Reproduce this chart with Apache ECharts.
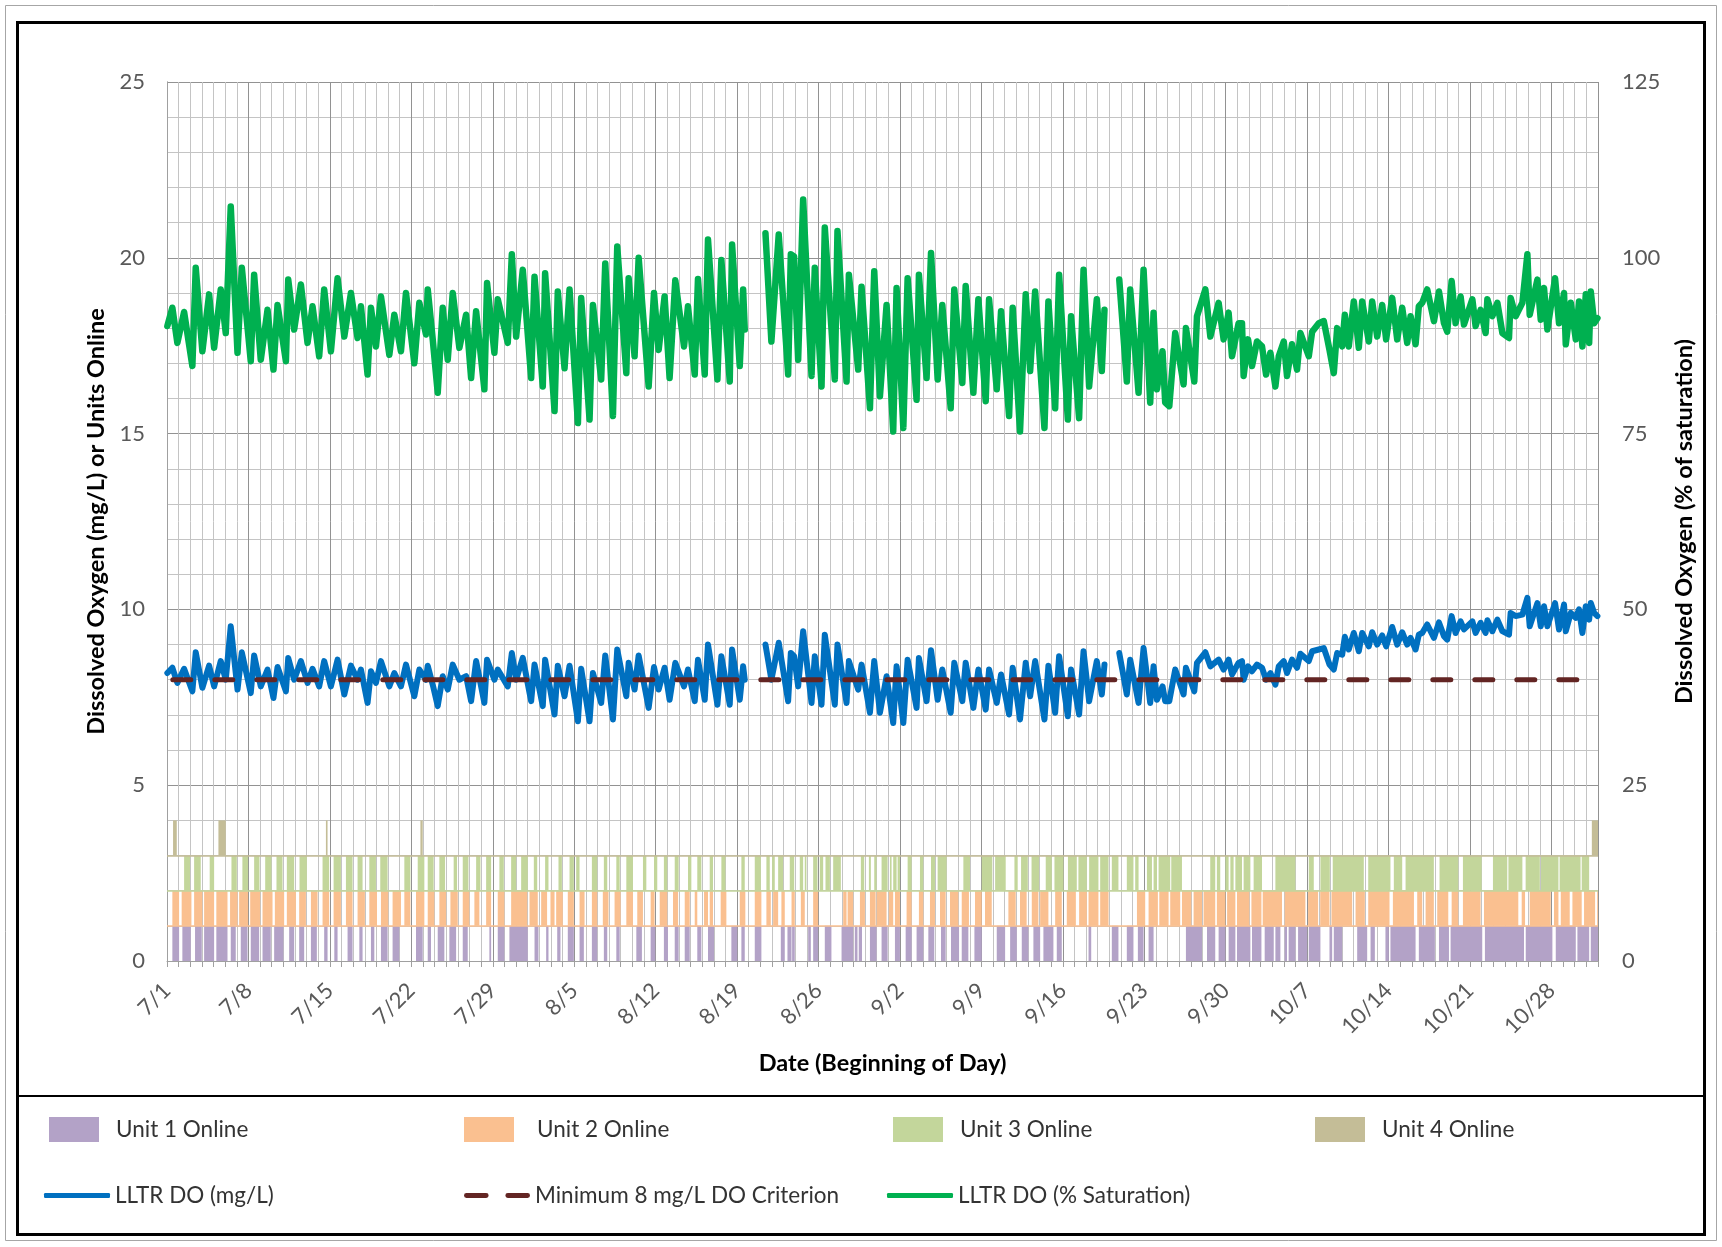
<!DOCTYPE html>
<html>
<head>
<meta charset="utf-8">
<script src="https://cdn.jsdelivr.net/npm/echarts@6/dist/echarts.min.js"></script>
<style>
  html, body { margin: 0; padding: 0; background: #ffffff; }
  #chart { width: 1722px; height: 1247px; }
</style>
</head>
<body>
<div id="chart"></div>
<script>
// ---- Tick labels (one per week, starting 7/1) ----
const xTickLabels = ['7/1','7/8','7/15','7/22','7/29','8/5','8/12','8/19','8/26','9/2','9/9','9/16','9/23','9/30','10/7','10/14','10/21','10/28'];

// ---- LLTR dissolved oxygen samples: days since 7/1, mg/L, % saturation (null = no record) ----
const sampleDays = [
  0.03,0.46,0.89,1.47,2.18,2.47,3.04,3.62,4.05,4.62,
  5.05,5.48,6.06,6.43,7.20,7.49,8.06,8.64,9.15,9.50,
  10.22,10.42,10.93,11.51,12.08,12.51,13.08,13.51,14.09,14.66,
  15.24,15.81,16.38,16.67,17.24,17.53,17.96,18.39,19.11,19.54,
  20.11,20.54,21.26,21.69,22.26,22.41,22.84,23.27,23.70,24.13,
  24.56,25.13,25.71,26.14,26.57,27.28,27.51,28.14,28.43,29.29,
  29.64,30.01,
  30.58,31.30,31.59,32.30,32.50,33.31,33.59,34.17,34.60,35.32,
  35.60,36.32,36.61,37.32,37.67,38.33,38.70,39.48,39.68,40.19,
  40.54,41.40,41.86,42.26,42.77,43.20,43.69,44.44,44.78,45.36,
  45.64,46.22,46.50,47.31,47.65,48.37,48.57,49.23,49.52,49.66,
  50.50,
  51.44,51.95,52.58,53.39,53.62,53.90,54.25,54.68,55.40,55.68,
  56.26,56.54,57.40,57.63,58.41,58.61,59.41,59.70,60.42,60.79,
  61.28,
  61.42,61.85,62.42,62.71,63.29,63.66,64.43,64.63,65.29,65.67,
  66.24,66.64,67.36,67.67,68.36,68.65,69.31,69.74,70.37,70.66,
  71.32,71.69,72.38,72.69,73.32,73.81,74.19,74.62,75.42,75.76,
  76.34,76.68,77.43,77.71,78.40,78.78,79.26,79.92,80.35,80.58,
  81.20,
  81.85,82.50,82.79,83.51,83.94,84.51,84.80,85.09,85.57,85.80,
  86.15,86.66,87.38,87.58,88.30,88.53,89.25,89.68,90.39,90.82,
  91.25,91.54,92.11,
  92.40,92.54,92.92,93.26,93.69,94.12,94.47,94.84,95.27,95.56,
  95.99,96.27,96.70,97.13,97.42,98.14,98.43,99.00,99.43,99.92,
  100.29,100.58,101.01,101.24,101.58,102.01,102.44,102.73,103.30,103.59,
  104.02,104.45,104.79,105.31,105.74,106.17,106.60,106.89,107.32,107.60,
  107.89,108.32,108.90,109.33,109.76,110.04,110.42,110.76,111.19,111.48,
  112.20,112.48,112.91,113.34,113.49,113.92,114.35,114.78,115.35,115.49,
  115.92,116.50,116.93,117.13,117.79,118.08,118.36,118.65,119.31,119.65,
  120.08,120.23,120.66,121.09,121.37,121.66,121.95,122.24,122.38,122.67,
  122.95
];

const doMgL = [
  8.19,8.34,7.91,8.31,7.67,8.78,7.77,8.40,7.81,8.53,
  8.00,9.52,7.72,8.78,7.62,8.69,7.81,8.29,7.48,8.36,
  7.67,8.62,8.00,8.53,7.91,8.31,7.81,8.53,7.81,8.57,
  7.58,8.40,8.00,8.29,7.34,8.24,7.91,8.53,7.81,8.19,
  7.81,8.43,7.53,8.29,8.00,8.40,7.86,7.25,8.10,7.72,
  8.43,8.00,8.10,7.39,8.53,7.34,8.57,8.00,8.29,7.81,
  8.76,8.00,
  8.62,7.39,8.43,7.25,8.57,7.01,8.40,7.53,8.40,6.82,
  8.31,6.82,8.19,7.34,8.69,6.87,8.86,7.53,8.48,7.72,
  8.69,7.20,8.36,7.72,8.34,7.43,8.48,7.81,8.29,7.39,
  8.57,7.43,9.00,7.29,8.67,7.29,8.86,7.43,8.38,8.00,
  null,
  9.00,8.00,9.05,7.39,8.76,8.67,7.81,9.38,7.34,8.67,
  7.29,9.28,7.29,9.00,7.34,8.53,7.72,8.43,7.06,8.53,
  7.06,
  7.10,8.10,6.77,8.38,6.77,8.57,7.20,8.62,7.39,8.84,
  7.43,8.29,7.06,8.48,7.39,8.48,7.20,8.29,7.15,8.29,
  7.34,8.15,7.01,8.34,6.87,8.48,7.53,8.53,6.87,8.40,
  7.06,8.67,6.96,8.29,7.01,8.81,7.39,8.53,7.58,8.43,
  null,
  8.76,7.58,8.57,7.34,8.90,7.34,8.38,7.43,7.81,7.39,
  7.39,8.29,7.58,8.34,7.67,8.48,8.78,8.38,8.57,8.29,
  8.57,8.15,8.48,
  8.53,8.00,8.38,8.24,8.43,8.34,8.00,8.19,7.86,8.38,
  8.53,8.19,8.57,8.34,8.74,8.53,8.81,8.86,8.90,8.43,
  8.29,8.76,8.71,9.22,8.86,9.33,8.81,9.33,8.95,9.35,
  9.00,9.26,8.95,9.50,9.00,9.35,9.00,9.19,8.86,9.28,
  9.33,9.57,9.19,9.63,9.24,9.14,9.81,9.33,9.66,9.43,
  9.66,9.33,9.62,9.33,9.69,9.38,9.71,9.38,9.28,9.90,
  9.81,9.85,10.33,9.52,10.18,9.52,10.09,9.52,10.18,9.43,
  10.14,9.38,9.90,9.76,10.00,9.33,10.09,9.71,10.18,9.90,
  9.81
];

const doPctSat = [
  90.3,92.9,87.9,92.3,84.6,98.6,86.7,94.8,87.2,95.5,
  89.3,107.3,86.5,98.6,85.3,97.6,85.5,92.6,84.1,93.3,
  85.3,96.9,89.8,96.2,87.9,93.1,86.0,95.5,86.7,97.1,
  88.8,95.0,88.6,93.1,83.4,92.9,87.4,94.5,86.2,91.9,
  86.7,95.0,85.0,93.6,89.1,95.5,88.4,80.8,92.9,85.5,
  95.0,87.2,91.9,82.9,92.4,81.3,96.4,86.5,94.1,87.9,
  100.5,88.8,
  98.3,82.9,97.3,81.7,97.8,78.2,95.2,84.3,95.5,76.5,
  94.3,77.0,93.3,82.7,99.2,77.5,101.6,83.6,97.1,86.0,
  100.0,81.7,95.0,86.9,94.5,82.9,96.8,87.4,93.1,83.4,
  97.0,83.4,102.6,82.7,99.7,82.4,101.9,84.6,95.5,89.8,
  null,
  103.5,88.1,103.3,83.4,100.5,100.2,85.5,108.3,83.2,98.6,
  81.7,104.3,82.7,103.8,82.4,97.6,84.1,95.9,78.6,98.1,
  80.3,
  80.3,93.3,75.3,95.7,75.8,97.1,79.8,97.6,82.9,100.7,
  82.7,93.3,78.6,95.5,82.2,96.0,80.8,94.1,79.6,94.1,
  81.3,92.4,77.5,92.9,75.3,94.8,83.9,95.2,75.8,93.8,
  78.6,97.6,77.0,91.7,77.2,98.3,81.7,94.1,83.9,92.6,
  null,
  96.9,82.4,95.5,80.8,98.3,79.4,92.2,81.3,86.7,79.4,
  78.9,89.3,82.0,90.0,82.4,91.7,95.5,88.8,93.6,88.4,
  92.2,86.0,90.7,
  90.7,83.2,88.4,84.6,88.1,87.4,83.4,86.5,81.7,86.0,
  88.1,83.2,87.7,84.1,89.3,86.0,89.5,90.7,91.0,86.9,
  83.6,90.0,87.4,91.9,87.4,93.8,87.2,93.8,88.1,93.8,
  88.8,93.3,88.4,94.3,88.4,92.9,87.9,91.7,87.7,93.1,
  93.6,95.5,91.0,95.2,90.7,89.5,96.7,90.7,94.5,90.5,
  94.1,90.3,92.6,89.3,94.1,91.7,93.6,89.3,88.6,94.3,
  91.7,93.6,100.5,91.9,96.9,91.2,95.7,89.8,97.1,90.7,
  95.0,87.7,93.6,88.4,93.8,87.4,94.8,87.9,95.2,90.7,
  91.4
];

// ---- Minimum DO criterion (mg/L) ----
const criterionDays = [0.5, 123];
const criterionMgL = 8;

// ---- Generating units online: [start day, end day] ----
const unit1Online = [
  [0.46,1.04],[1.32,2.04],[2.41,2.99],[3.19,4.05],[4.24,5.20],[5.48,5.91],[6.34,6.92],[7.20,7.92],
  [8.21,8.92],[9.21,10.01],[10.50,10.93],[11.36,11.79],[12.37,12.88],[13.51,13.80],[14.38,14.66],
  [15.52,15.95],[16.53,16.81],[17.53,17.82],[18.39,18.96],[19.39,19.97],[21.40,21.98],[22.41,22.69],
  [23.27,23.84],[24.27,24.85],[25.42,25.85],[27.71,27.86],[28.43,29.00],[29.43,31.01],
  [31.59,31.93],[32.59,32.79],[33.54,33.82],[34.45,34.97],[35.46,35.83],[36.52,36.98],[37.55,37.84],
  [38.62,38.91],[40.34,40.82],[41.57,41.97],[42.71,43.06],[43.64,43.98],[44.50,44.93],[45.58,45.93],
  [46.50,47.02],[48.51,49.02],[49.37,49.66],[50.52,51.09],[52.76,53.10],[53.33,53.68],[53.73,53.96],
  [55.11,55.34],[55.54,55.97],[56.54,57.11],[57.98,58.98],[59.12,59.35],[59.46,59.74],[60.42,60.99],
  [61.42,61.94],[62.57,63.00],[63.49,64.00],[64.43,65.01],[65.44,65.95],[66.53,66.93],[67.39,68.08],
  [68.31,68.88],[69.40,70.03],[71.32,72.04],[72.47,73.04],[73.47,74.04],[74.47,75.05],[75.33,76.19],
  [76.48,76.91],[79.21,79.44],[81.21,81.78],[82.50,83.07],[83.45,83.94],[84.37,84.80],[87.58,88.96],
  [89.39,90.10],[90.39,90.97],[91.25,91.83],[91.97,93.12],[93.26,94.07],[94.35,95.13],[95.27,95.70],
  [96.07,96.27],[96.41,96.99],[97.22,98.00],[98.14,99.14],[99.92,100.15],[100.29,101.01],[102.30,103.16],
  [103.45,103.82],[104.73,105.02],[105.16,107.32],[107.60,108.98],[109.33,110.19],[110.33,113.05],
  [113.28,116.64],[116.79,119.08],[119.37,121.09],[121.23,122.24],[122.38,123.00]
];

const unit2Online = [
  [0.46,1.04],[1.26,2.10],[2.33,3.04],[3.19,4.05],[4.24,5.20],[5.42,6.06],[6.20,6.97],[7.15,8.01],
  [8.21,9.07],[9.27,10.07],[10.30,11.08],[11.36,11.94],[12.37,12.94],[13.37,13.94],[14.32,14.95],
  [15.38,15.95],[16.38,17.01],[17.39,18.05],[18.39,19.02],[19.39,20.11],[20.40,20.92],[21.40,22.12],
  [22.41,22.98],[23.41,23.99],[24.36,24.99],[25.42,25.99],[26.42,26.85],[27.43,27.86],[28.43,29.00],
  [29.58,30.96],[31.16,31.87],[32.16,32.67],[32.96,33.31],[33.45,34.02],[34.45,34.97],[35.46,35.89],
  [36.52,36.98],[37.46,37.95],[38.47,38.99],[39.48,40.05],[40.42,40.91],[41.57,41.91],[42.35,43.00],
  [43.49,43.93],[44.50,44.93],[45.36,45.58],[46.16,46.50],[46.65,46.93],[47.59,48.08],[49.23,49.71],
  [50.52,51.09],[51.52,51.90],[52.10,52.53],[52.81,53.10],[53.68,53.96],[54.48,54.82],[55.54,55.97],
  [58.12,58.41],[58.50,58.98],[59.56,59.99],[60.42,60.91],[61.00,61.85],[62.05,62.42],[62.57,63.00],
  [63.57,64.00],[64.63,65.01],[65.58,66.01],[66.44,66.93],[67.30,68.02],[68.31,68.93],[69.45,70.03],
  [70.31,70.89],[72.32,72.95],[73.32,73.89],[74.33,74.90],[75.05,75.76],[76.34,76.91],[77.34,78.12],
  [78.40,79.06],[79.21,80.06],[80.21,80.93],[83.37,84.08],[84.37,85.17],[85.29,86.09],[86.23,87.09],
  [87.24,88.04],[88.24,88.96],[89.10,90.10],[90.24,90.97],[91.12,91.83],[91.97,93.03],[93.21,94.07],
  [94.18,95.84],[96.07,97.85],[98.08,98.94],[99.12,99.92],[100.09,101.87],[102.16,102.96],[103.25,105.08],
  [105.37,107.18],[107.46,107.89],[108.18,108.89],[109.18,110.13],[110.42,110.99],[111.39,112.91],
  [113.20,116.15],[116.44,116.73],[117.13,118.94],[119.22,119.60],[119.80,120.57],[120.80,121.60],
  [121.80,122.75],[122.93,123.00]
];

const unit3Online = [
  [1.47,1.98],[2.33,2.90],[3.67,4.05],[5.54,6.00],[6.48,6.97],[7.49,7.95],[8.44,8.98],[9.41,9.93],
  [10.30,10.93],[11.39,12.02],[13.37,13.94],[14.32,14.95],[15.38,15.95],[16.38,16.81],[17.39,17.96],
  [18.33,18.96],[20.40,20.92],[21.55,22.12],[22.41,22.92],[23.41,23.90],[24.64,24.93],[25.42,25.91],
  [26.57,26.94],[27.43,27.86],[28.57,28.95],[29.58,30.01],[30.44,31.01],[31.53,31.82],[32.50,32.79],
  [33.65,33.94],[34.60,34.97],[35.17,35.46],[36.52,36.98],[37.55,37.84],[38.62,38.91],[39.48,40.05],
  [40.91,41.20],[41.86,42.14],[42.71,43.00],[43.64,43.98],[44.78,45.07],[45.58,45.93],[46.65,46.93],
  [47.65,48.00],[49.37,49.66],[50.52,51.04],[51.52,51.81],[52.01,52.24],[52.53,52.96],[53.53,53.91],
  [54.39,54.68],[54.82,54.96],[55.54,55.91],[56.11,56.40],[56.60,56.98],[57.26,57.92],[59.64,59.93],
  [60.33,60.50],[60.79,60.99],[61.42,61.94],[62.14,62.28],[62.42,62.71],[62.80,63.00],[63.66,64.00],
  [64.72,65.01],[65.67,66.01],[66.24,67.01],[68.45,69.02],[70.03,70.94],[71.18,72.09],[72.84,73.12],
  [73.41,73.99],[74.31,74.96],[75.53,76.05],[76.28,77.06],[77.44,78.20],[78.34,79.06],[79.26,80.06],
  [80.21,80.93],[81.21,81.78],[82.50,83.07],[83.22,83.51],[84.23,84.66],[84.80,85.09],[85.23,86.23],
  [86.32,87.24],[89.67,90.10],[90.24,90.53],[90.97,91.25],[91.40,91.68],[91.83,92.40],[92.54,93.12],
  [93.40,94.12],[95.27,96.99],[98.14,98.57],[99.14,99.95],[100.20,102.87],[103.25,105.16],[105.45,106.17],
  [106.46,108.89],[109.38,110.99],[111.39,113.00],[113.97,115.20],[115.30,116.50],[116.78,118.00],
  [118.10,119.60],[119.70,121.50],[121.60,122.24]
];

const unit4Online = [
  [0.52,0.84],[4.42,5.05],[13.66,13.80],[21.78,21.98],[122.47,123.00]
];

const unitNames = ['Unit 1 Online','Unit 2 Online','Unit 3 Online','Unit 4 Online'];
const unitColors = ['#b3a2c7','#fac090','#c3d69b','#c4bd97'];
const unitSchedules = [unit1Online, unit2Online, unit3Online, unit4Online];

const FONT = 'Lato, "Open Sans", "Liberation Sans", sans-serif';

// Each unit occupies its own one-unit band: unit k spans k-1..k on the left axis.
function unitBandRenderer(level) {
  return function (params, api) {
    const p0 = api.coord([api.value(0), level]);
    const p1 = api.coord([api.value(1), level + 1]);
    const cs = params.coordSys;
    const shape = echarts.graphic.clipRectByRect(
      { x: p0[0], y: p1[1], width: p1[0] - p0[0], height: p0[1] - p1[1] },
      { x: cs.x, y: cs.y, width: cs.width, height: cs.height }
    );
    return shape && { type: 'rect', shape: shape, style: { fill: api.visual('color') } };
  };
}

const unitSeries = unitSchedules.map((sched, i) => ({
  name: unitNames[i],
  type: 'custom',
  xAxisIndex: 0,
  yAxisIndex: 0,
  renderItem: unitBandRenderer(i),
  encode: { x: [0, 1] },
  itemStyle: { color: unitColors[i] },
  data: sched,
  z: 1,
  silent: true,
  markLine: i === 0 ? undefined : {
    silent: true,
    symbol: 'none',
    label: { show: false },
    lineStyle: { color: unitColors[i], width: 1.5, type: 'solid' },
    data: [{ yAxis: i }],
    animation: false
  }
}));

const mgData = sampleDays.map((d, i) => [d, doMgL[i] === null ? '-' : doMgL[i]]);
const pctData = sampleDays.map((d, i) => [d, doPctSat[i] === null ? '-' : doPctSat[i]]);
const criterionData = criterionDays.map(d => [d, criterionMgL]);

const axisGray = '#a0a0a0';
const minorGray = '#c4c4c4';
const majorGray = '#929292';
const tickText = { fontFamily: FONT, fontSize: 22, color: '#595959' };
const titleText = { fontFamily: FONT, fontSize: 23.5, fontWeight: 'bold', color: '#000000' };
const legendText = { fontFamily: FONT, fontSize: 22.5, color: '#333333' };

function unitLegend(i, left, gap) {
  return {
    data: [unitNames[i]], left: left, top: 1117, padding: 0, orient: 'horizontal',
    icon: 'rect', itemWidth: 50, itemHeight: 25,
    textStyle: Object.assign({ padding: [0, 0, 0, gap] }, legendText),
    selectedMode: false
  };
}
function lineLegend(name, left, icon) {
  return {
    data: [{ name: name, icon: icon }], left: left, top: 1184, padding: 0,
    itemWidth: 66, itemHeight: 5,
    textStyle: Object.assign({ padding: [0, 0, 0, 0] }, legendText),
    selectedMode: false
  };
}

const option = {
  animation: false,
  backgroundColor: '#ffffff',
  grid: { left: 167, right: 124, top: 82, bottom: 286, containLabel: false },
  legend: [
    unitLegend(0, 49, 12), unitLegend(1, 464, 18), unitLegend(2, 893, 12), unitLegend(3, 1315, 12),
    lineLegend('LLTR DO (mg/L)', 44, 'roundRect'),
    lineLegend('Minimum 8 mg/L DO Criterion', 464, 'path://M2,0H22A2,2 0 0 1 22,5H2A2,2 0 0 1 2,0Z M44,0H64A2,2 0 0 1 64,5H44A2,2 0 0 1 44,0Z'),
    lineLegend('LLTR DO (% Saturation)', 887, 'roundRect')
  ],
  xAxis: [
    {
      type: 'value', min: 0, max: 123, interval: 1, position: 'bottom',
      axisLine: { show: true, lineStyle: { color: axisGray, width: 1 } },
      axisTick: { show: true, length: 6, lineStyle: { color: axisGray } },
      axisLabel: { show: false },
      splitLine: { show: true, lineStyle: { color: minorGray, width: 1 } }
    },
    {
      type: 'value', min: 0, max: 123, interval: 7, position: 'bottom',
      axisLine: { show: false }, axisTick: { show: false },
      axisLabel: Object.assign({
        rotate: 45, margin: 26,
        formatter: v => (v % 7 === 0 && xTickLabels[v / 7]) ? xTickLabels[v / 7] : ''
      }, tickText),
      splitLine: { show: true, lineStyle: { color: majorGray, width: 1 } },
      name: 'Date (Beginning of Day)', nameLocation: 'middle', nameGap: 90,
      nameTextStyle: titleText
    }
  ],
  yAxis: [
    {
      type: 'value', min: 0, max: 25, interval: 5, position: 'left',
      axisLine: { show: true, lineStyle: { color: axisGray } },
      axisTick: { show: false },
      axisLabel: Object.assign({ margin: 22 }, tickText),
      splitLine: { show: true, lineStyle: { color: majorGray, width: 1 } },
      minorTick: { show: false, splitNumber: 5 },
      minorSplitLine: { show: true, lineStyle: { color: minorGray, width: 1 } },
      name: 'Dissolved Oxygen (mg/L) or Units Online', nameLocation: 'middle', nameRotate: 90, nameGap: 58,
      nameTextStyle: titleText
    },
    {
      type: 'value', min: 0, max: 125, interval: 25, position: 'right',
      axisLine: { show: true, lineStyle: { color: axisGray } },
      axisTick: { show: false },
      axisLabel: Object.assign({ margin: 24 }, tickText),
      splitLine: { show: false },
      name: 'Dissolved Oxygen (% of saturation)', nameLocation: 'middle', nameRotate: 90, nameGap: 74,
      nameTextStyle: titleText
    }
  ],
  graphic: [
    { type: 'rect', silent: true, z: 100, shape: { x: 5.5, y: 5.5, width: 1711, height: 1235 },
      style: { fill: null, stroke: '#a6a6a6', lineWidth: 1 } },
    { type: 'rect', silent: true, z: 100, shape: { x: 17.5, y: 22.5, width: 1687, height: 1212 },
      style: { fill: null, stroke: '#000000', lineWidth: 3 } },
    { type: 'line', silent: true, z: 100, shape: { x1: 17.5, y1: 1096, x2: 1704.5, y2: 1096 },
      style: { stroke: '#000000', lineWidth: 2 } }
  ],
  series: unitSeries.concat([
    {
      name: 'LLTR DO (mg/L)', type: 'line', xAxisIndex: 0, yAxisIndex: 0,
      data: mgData, showSymbol: false, symbol: 'none', connectNulls: false,
      lineStyle: { color: '#0070c0', width: 6, cap: 'round', join: 'round' },
      itemStyle: { color: '#0070c0' }, z: 3, silent: true
    },
    {
      name: 'Minimum 8 mg/L DO Criterion', type: 'line', xAxisIndex: 0, yAxisIndex: 0,
      data: criterionData, showSymbol: false, symbol: 'none',
      lineStyle: { color: '#632523', width: 5, type: [18, 24], cap: 'round' },
      itemStyle: { color: '#632523' }, z: 4, silent: true
    },
    {
      name: 'LLTR DO (% Saturation)', type: 'line', xAxisIndex: 0, yAxisIndex: 1,
      data: pctData, showSymbol: false, symbol: 'none', connectNulls: false,
      lineStyle: { color: '#00b050', width: 6.5, cap: 'round', join: 'round' },
      itemStyle: { color: '#00b050' }, z: 5, silent: true
    }
  ])
};

const chart = echarts.init(document.getElementById('chart'), null, { renderer: 'canvas' });
chart.setOption(option);
</script>
</body>
</html>
